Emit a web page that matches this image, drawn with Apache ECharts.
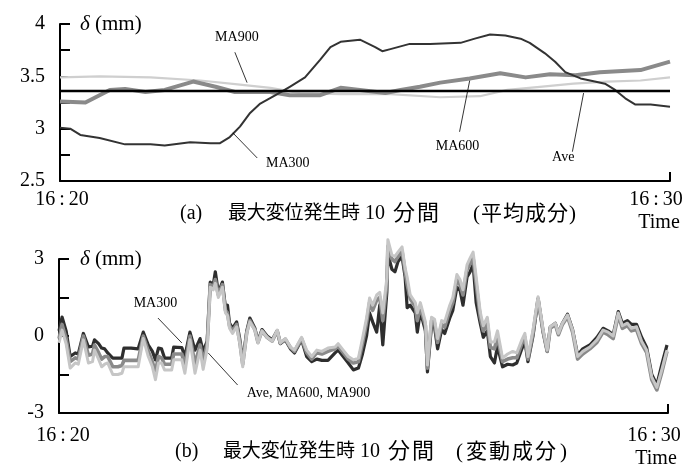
<!DOCTYPE html>
<html><head><meta charset="utf-8">
<script src="https://cdn.jsdelivr.net/npm/echarts@6/dist/echarts.min.js"></script>
<style>html,body{margin:0;padding:0;background:#fff}#c{width:698px;height:466px}</style>
</head><body><div id="c"></div>
<script>
// ---------- top panel (mean component), time in seconds from 16:20 ----------
var ma300TopT = [0,10,20,39,64,89,103,128,148,157,167,177,187,197,212,226,241,256,266,276,295,310,317,325,344,364,394,408,423,438,453,462,477,487,497,512,526,536,546,556,566,581,600];
var ma300TopV = [3.01,3.00,2.94,2.91,2.85,2.85,2.84,2.87,2.86,2.86,2.92,3.02,3.15,3.24,3.32,3.40,3.49,3.66,3.78,3.83,3.85,3.78,3.74,3.76,3.81,3.81,3.82,3.86,3.90,3.89,3.86,3.82,3.72,3.64,3.54,3.48,3.45,3.43,3.37,3.29,3.23,3.23,3.21];
var ma600TopT = [0,25,49,64,84,103,131,153,172,207,226,256,276,295,320,335,354,374,403,433,458,482,507,531,571,600];
var ma600TopV = [3.26,3.25,3.37,3.38,3.35,3.37,3.45,3.40,3.35,3.35,3.32,3.32,3.39,3.37,3.34,3.37,3.40,3.44,3.48,3.53,3.49,3.52,3.51,3.54,3.56,3.64];
var ma900TopT = [0,39,89,138,177,207,236,276,325,374,413,440,472,505,538,571,600];
var ma900TopV = [3.49,3.50,3.49,3.46,3.42,3.39,3.34,3.33,3.33,3.30,3.31,3.37,3.40,3.43,3.45,3.46,3.49];
var aveTopT = [0,600];
var aveTopV = [3.36,3.36];

// ---------- bottom panel (fluctuating component) ----------
var botT = [0,3,7,11,16,19,24,29,33,35,39,42,45,48,53,58,62,64,71,78,
83,88,92,95,98,101,104,111,113,121,124,129,134,139,142,146,149,152,154,157,
161,164,166,168,171,175,178,181,185,188,193,196,200,205,210,215,218,223,228,232,
239,244,249,254,259,265,272,275,280,285,290,295,299,303,306,309,313,316,319,323,
324,328,331,334,338,341,343,346,351,353,356,361,363,367,370,373,377,380,385,388,
392,395,398,402,405,408,411,415,418,422,425,429,432,437,442,447,451,456,459,462,
467,472,477,481,484,489,492,496,501,506,511,516,523,530,536,541,546,551,555,560,
564,569,574,579,584,589,594,599];
var botLight = [-0.27,0.23,-0.3,-1.25,-1.05,-1.1,-0.15,-1.05,-1.0,-0.55,-0.9,-1.2,-1.1,-1.05,-1.5,-1.5,-1.45,-1.2,-1.2,-1.2,
-0.1,-0.8,-1.2,-1.7,-1.05,-1.05,-1.32,-1.32,-0.93,-0.93,-1.45,-0.15,-1.45,-0.55,-1.3,-0.5,1.9,1.8,2.05,1.5,
1.9,0.9,0.8,0.3,0.1,0.36,-0.27,-1.2,0.1,0.55,0.23,-0.27,0.2,-0.05,-0.2,0.23,-0.27,-0.1,-0.43,-0.55,
-0.05,-0.55,-0.8,-0.55,-0.6,-0.47,-0.43,-0.3,-0.55,-0.8,-0.93,-0.86,-0.1,0.7,1.48,1.2,1.6,1.7,0.9,2.25,
3.75,3.15,3.1,3.27,3.47,2.65,2.3,1.6,1.3,0.9,1.3,0.55,-1.13,0.73,0.65,-0.1,0.6,0.55,1.2,1.5,
2.4,2.2,1.8,2.77,3.03,3.27,2.3,0.94,0.4,0.73,-0.23,-0.23,0.2,-0.86,-0.7,-0.6,-0.66,-0.15,0.1,-0.8,
0.23,1.53,0.23,-0.55,0.36,0.5,0.1,0.5,0.82,0.23,-0.8,-0.6,-0.43,-0.15,0.23,0.15,0.0,0.9,0.4,0.5,
0.3,0.36,-0.2,-0.55,-1.6,-2.0,-1.3,-0.55];
var botMid = [-0.1,0.45,-0.1,-1.0,-0.85,-0.9,0.0,-0.75,-0.7,-0.35,-0.65,-0.9,-0.8,-0.8,-1.2,-1.2,-1.15,-0.95,-0.95,-0.95,
0.0,-0.6,-1.0,-1.4,-0.8,-0.85,-1.1,-1.1,-0.7,-0.7,-1.15,0.0,-1.1,-0.35,-1.0,-0.3,2.0,1.9,2.2,1.6,
2.0,1.0,0.9,0.4,0.2,0.45,-0.2,-1.1,0.15,0.6,0.25,-0.25,0.2,-0.05,-0.2,0.2,-0.28,-0.12,-0.45,-0.6,
-0.1,-0.65,-0.9,-0.65,-0.7,-0.6,-0.5,-0.4,-0.65,-0.9,-1.05,-1.0,-0.3,0.5,1.3,1.0,1.4,1.5,0.6,2.0,
3.5,3.0,2.9,3.1,3.3,2.5,2.0,1.45,1.15,0.6,1.15,0.4,-1.25,0.6,0.5,-0.25,0.45,0.35,1.0,1.3,
2.2,2.0,1.6,2.6,2.8,3.05,2.0,0.75,0.2,0.5,-0.45,-0.5,-0.05,-1.0,-0.9,-0.85,-0.85,-0.3,-0.05,-0.9,
0.1,1.45,0.15,-0.6,0.3,0.45,0.05,0.45,0.75,0.15,-0.9,-0.7,-0.5,-0.25,0.15,0.05,-0.1,0.8,0.3,0.4,
0.2,0.25,-0.3,-0.65,-1.7,-2.1,-1.4,-0.6];
var botDark = [0.2,0.74,0.2,-0.8,-0.66,-0.7,0.1,-0.43,-0.4,-0.15,-0.3,-0.47,-0.5,-0.66,-0.86,-0.86,-0.86,-0.47,-0.47,-0.5,
0.15,-0.35,-0.6,-0.93,-0.47,-0.5,-0.86,-0.86,-0.43,-0.45,-0.8,0.15,-0.55,-0.1,-0.6,-0.2,2.1,2.0,2.5,1.7,
2.1,1.1,1.2,0.5,0.3,0.55,-0.1,-1.0,0.2,0.7,0.3,-0.2,0.25,0.0,-0.15,0.2,-0.3,-0.15,-0.5,-0.66,
-0.15,-0.8,-1.0,-0.9,-0.95,-0.95,-0.66,-0.55,-0.8,-1.05,-1.32,-1.25,-0.7,0.0,0.9,0.55,0.15,1.2,-0.35,1.7,
3.2,2.6,2.5,2.9,3.1,2.3,1.1,1.2,0.9,0.15,0.95,0.2,-1.4,0.4,0.35,-0.5,0.25,0.1,0.7,1.0,
1.9,1.8,1.2,2.3,2.5,2.8,1.3,0.5,-0.05,0.2,-0.8,-1.05,-0.4,-1.2,-1.1,-1.13,-1.05,-0.5,-0.2,-1.0,
0.0,1.45,0.15,-0.6,0.35,0.5,0.1,0.5,0.85,0.25,-0.75,-0.5,-0.35,-0.05,0.3,0.2,0.05,0.95,0.5,0.6,
0.45,0.45,-0.05,-0.45,-1.5,-1.9,-1.1,-0.35];

// tick labels
var topYLabels = ['2.5','3','3.5','4'];
var botYLabels = ['-3','0','3'];
var timeLabels = ['16:20','16:30'];

// annotations (data coordinates)
var topNotes = [
  {text:'MA900', at:[174,3.875], from:[172,3.73], to:[184,3.44]},
  {text:'MA300', at:[224,2.67], from:[170,2.96], to:[194,2.72]},
  {text:'MA600', at:[391,2.83], from:[403,3.46], to:[393,2.97]},
  {text:'Ave',   at:[495,2.73], from:[515,3.34], to:[504,2.78]}
];
var botNotes = [
  {text:'MA300', at:[95,1.29], from:[97.5,0.70], to:[121,-0.27], align:'center'},
  {text:'Ave, MA600, MA900', at:[185,-2.22], from:[147,-0.66], to:[176,-1.91], align:'left'}
];

function zip(t, v){ var n=Math.min(t.length,v.length), r=[]; for(var i=0;i<n;i++) r.push([t[i],v[i]]); return r; }

var SERIF = '"Liberation Serif","Noto Sans CJK JP",serif';
var chart = echarts.init(document.getElementById('c'), null, {renderer:'canvas'});

function yAxis(grid, min, max, interval, labels, tickLen){
  return {
    type:'value', gridIndex:grid, min:min, max:max, interval:interval,
    axisLine:{show:true, lineStyle:{color:'#000', width:2}},
    axisTick:{show:true, inside:true, length:tickLen, lineStyle:{color:'#000', width:2}},
    splitLine:{show:false},
    axisLabel:{show:true, margin:15, color:'#000', fontSize:20, fontFamily:SERIF,
      formatter:function(v){ var s=String(Math.round(v*100)/100); return labels.indexOf(s)>=0 ? s : ''; }}
  };
}
function xAxis(grid){
  return {
    type:'value', gridIndex:grid, min:0, max:600, interval:600,
    axisLine:{show:true, onZero:false, lineStyle:{color:'#000', width:2}},
    axisTick:{show:true, inside:true, length:9, lineStyle:{color:'#000', width:2}},
    axisLabel:{show:false}, splitLine:{show:false}
  };
}
function line(x, y, data, color, width, z){
  return {type:'line', xAxisIndex:x, yAxisIndex:y, data:data, showSymbol:false, symbol:'none',
    clip:false, z:z, lineStyle:{color:color, width:width, join:'round'}, silent:true};
}

var option = {
  animation:false,
  backgroundColor:'#fff',
  grid:[
    {left:60, top:24, width:610, height:157},
    {left:59, top:259, width:609, height:154}
  ],
  xAxis:[xAxis(0), xAxis(1)],
  yAxis:[yAxis(0,2.5,4,0.25,topYLabels,10), yAxis(1,-3,3,1.5,botYLabels,10)],
  series:[
    line(0,0,zip(ma900TopT,ma900TopV),'#cfcfcf',2.2,2),
    line(0,0,zip(ma600TopT,ma600TopV),'#8a8a8a',4,3),
    line(0,0,zip(ma300TopT,ma300TopV),'#333333',2,4),
    line(0,0,zip(aveTopT,aveTopV),'#000000',2.6,5),
    line(1,1,zip(botT,botDark),'#2e2e2e',3.2,2),
    line(1,1,zip(botT,botMid),'#8a8a8a',3.6,3),
    line(1,1,zip(botT,botLight),'#c6c6c6',3,4)
  ]
};
chart.setOption(option);

function txt(text, x, y, size, align){
  return {type:'text', x:x, y:y, z:100, silent:true,
    style:{text:text, fill:'#000', font:size+'px '+SERIF, align:align||'center', verticalAlign:'middle',
      textAlign:align||'center', textVerticalAlign:'middle'}};
}
var g = [];
function notes(list, grid){
  list.forEach(function(n){
    var p = chart.convertToPixel({gridIndex:grid}, n.at);
    var a = chart.convertToPixel({gridIndex:grid}, n.from);
    var b = chart.convertToPixel({gridIndex:grid}, n.to);
    g.push(txt(n.text, p[0], p[1], 14, n.align||'center'));
    g.push({type:'line', z:90, silent:true, shape:{x1:a[0],y1:a[1],x2:b[0],y2:b[1]}, style:{stroke:'#000', lineWidth:0.8}});
  });
}
notes(topNotes,0);
notes(botNotes,1);

var tl0 = timeLabels[0].replace(':','\u2009:\u2009');
var tl1 = timeLabels[1].replace(':','\u2009:\u2009');
[[24,0],[259,1]].forEach(function(r){
  g.push({type:'text', x:80, y:r[0], z:100, silent:true,
    style:{text:'{i|\u03b4}{n| (mm)}', align:'left', verticalAlign:'middle', textAlign:'left', textVerticalAlign:'middle',
      rich:{i:{fontSize:21, fontStyle:'italic', fontFamily:SERIF, fill:'#000', color:'#000'},
            n:{fontSize:21, fontFamily:SERIF, fill:'#000', color:'#000'}}}});
});
g.push(txt(tl0, 62, 200, 20));
g.push(txt(tl1, 656, 200, 20));
g.push(txt('Time', 659, 223, 20));
g.push(txt(tl0, 63, 436, 20));
g.push(txt(tl1, 654, 436, 20));
g.push(txt('Time', 656, 459, 20));

// captions: characters spaced as in the reference
function chars(str, x0, step, y, size){
  for (var i=0;i<str.length;i++) g.push(txt(str[i], x0+i*step, y, size, 'left'));
}
function caption(y, tag, xs, paren){
  g.push(txt(tag, xs.tag, y, 20, 'left'));
  chars('最大変位発生時', xs.a, 18.85, y, 19);
  g.push(txt('10', xs.ten, y, 20, 'left'));
  chars('分間', xs.fen, 24, y, 22);
  g.push(txt('(', xs.lp, y, 21, 'left'));
  chars(paren, xs.p, xs.step, y, 21);
  g.push(txt(')', xs.rp, y, 21, 'left'));
}
caption(214, '(a)', {tag:180, a:228, ten:365, fen:393, lp:473, p:481, step:22, rp:569}, '平均成分');
caption(452, '(b)', {tag:175, a:223, ten:360, fen:388, lp:456, p:466, step:23, rp:560}, '変動成分');

chart.setOption({graphic:{elements:g}});
</script></body></html>
